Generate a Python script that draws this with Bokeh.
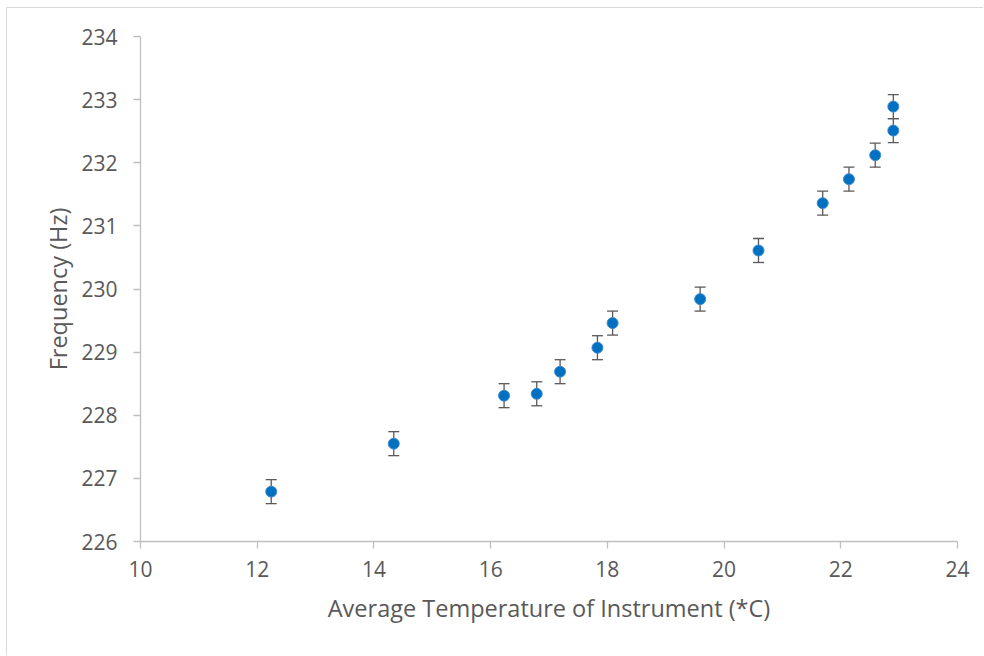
from bokeh.plotting import figure
from bokeh.models import ColumnDataSource, Whisker, TeeHead, Range1d, FixedTicker
from bokeh.embed import file_html
from bokeh.resources import INLINE

temperature = [12.24, 14.34, 16.23, 16.79, 17.19, 17.83, 18.09, 19.59, 20.59, 21.69, 22.14, 22.59, 22.90, 22.90]
frequency = [226.79, 227.55, 228.31, 228.34, 228.69, 229.07, 229.46, 229.84, 230.61, 231.36, 231.74, 232.12, 232.51, 232.89]
error = [0.19] * len(frequency)
x_ticks = [10, 12, 14, 16, 18, 20, 22, 24]
y_ticks = [226, 227, 228, 229, 230, 231, 232, 233, 234]

src = ColumnDataSource(dict(
    x=temperature, y=frequency,
    upper=[f + e for f, e in zip(frequency, error)],
    lower=[f - e for f, e in zip(frequency, error)],
))

FONT = "Open Sans"
p = figure(width=977, height=648, output_backend="svg", toolbar_location=None,
           x_range=Range1d(10, 24), y_range=Range1d(226, 234),
           min_border_left=133, min_border_right=27, min_border_top=28, min_border_bottom=115,
           margin=(7, 0, 0, 6),
           styles={"border-left": "1px solid #D9D9D9", "border-top": "1px solid #D9D9D9"})
p.outline_line_color = None
p.xgrid.visible = False
p.ygrid.visible = False
p.background_fill_color = "white"
p.border_fill_color = "white"

for ax in (p.xaxis[0], p.yaxis[0]):
    ax.axis_line_color = "#BFBFBF"
    ax.major_tick_line_color = "#BFBFBF"
    ax.axis_line_width = 1.3
    ax.major_tick_line_width = 1.3
    ax.major_tick_out = 7
    ax.major_tick_in = 0
    ax.minor_tick_line_color = None
    ax.major_label_text_color = "#595959"
    ax.major_label_text_font = FONT
    ax.major_label_text_font_size = "21px"
    ax.axis_label_text_color = "#595959"
    ax.axis_label_text_font = FONT
    ax.axis_label_text_font_size = "23.5px"
    ax.axis_label_text_font_style = "normal"

p.xaxis.ticker = FixedTicker(ticks=x_ticks)
p.yaxis.ticker = FixedTicker(ticks=y_ticks)
p.xaxis.axis_label = "Average Temperature of Instrument (*C)"
p.yaxis.axis_label = "Frequency (Hz)"
p.xaxis.major_label_standoff = 12
p.yaxis.major_label_standoff = 16
p.xaxis.axis_label_standoff = 12
p.yaxis.axis_label_standoff = 4

w = Whisker(base="x", upper="upper", lower="lower", source=src, dimension="height",
            line_color="#595959", line_width=1.3, level="underlay",
            upper_head=TeeHead(size=11, line_color="#595959", line_width=1.3),
            lower_head=TeeHead(size=11, line_color="#595959", line_width=1.3))
p.add_layout(w)

p.scatter("x", "y", source=src, size=11, fill_color="#0070C0", line_color="#3F8BD0", line_width=1)

open("out.html", "w").write(file_html(p, INLINE))
